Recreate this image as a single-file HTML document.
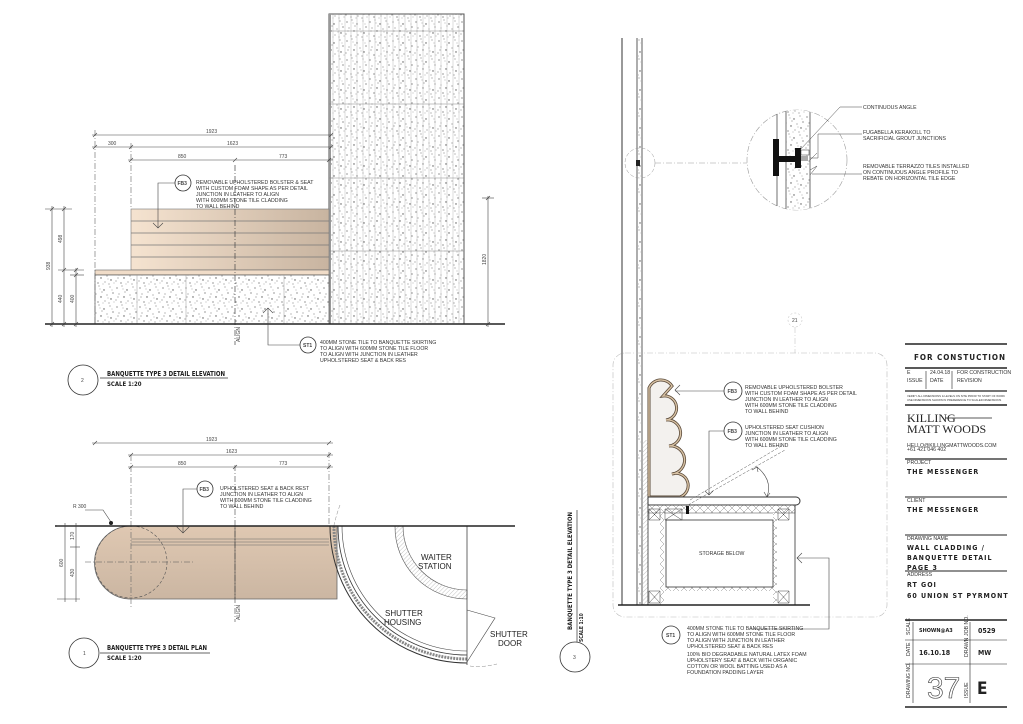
<!DOCTYPE html>
<html><head><meta charset="utf-8">
<style>
html,body{margin:0;padding:0;background:#fff;}
svg{display:block;}
.t{font-family:"Liberation Sans",sans-serif;font-size:5.2px;fill:#333;}
.d{font-family:"Liberation Sans",sans-serif;font-size:5px;fill:#444;}
.b{font-family:"Liberation Sans",sans-serif;font-size:8px;fill:#222;}
.n{font-family:"DejaVu Sans Condensed","Liberation Sans",sans-serif;font-weight:bold;fill:#222;}
</style></head><body>
<svg width="1023" height="724" viewBox="0 0 1023 724" xmlns="http://www.w3.org/2000/svg">
<defs>
<pattern id="terr" width="23" height="19" patternUnits="userSpaceOnUse">
<rect width="23" height="19" fill="#fff"/>
<g fill="#555">
<circle cx="2" cy="3" r="0.6"/><circle cx="7" cy="1" r="0.5"/><circle cx="12" cy="5" r="0.7"/><circle cx="18" cy="2" r="0.5"/>
<circle cx="4" cy="9" r="0.5"/><circle cx="9" cy="12" r="0.7"/><circle cx="15" cy="10" r="0.5"/><circle cx="21" cy="8" r="0.6"/>
<circle cx="1" cy="15" r="0.5"/><circle cx="6" cy="17" r="0.6"/><circle cx="13" cy="16" r="0.5"/><circle cx="19" cy="14" r="0.7"/>
<circle cx="10" cy="7" r="0.5"/><circle cx="17" cy="18" r="0.5"/><circle cx="3" cy="12" r="0.5"/>
<circle cx="20" cy="5" r="0.4"/><circle cx="8" cy="4" r="0.4"/><circle cx="16" cy="13" r="0.4"/><circle cx="11" cy="18" r="0.4"/><circle cx="22" cy="17" r="0.4"/>
</g></pattern>
<pattern id="vl" width="6" height="10" patternUnits="userSpaceOnUse">
<line x1="3" y1="0" x2="3" y2="10" stroke="#bbb" stroke-width="0.5"/>
</pattern>
<linearGradient id="leather" x1="0" x2="1" y1="0" y2="0">
<stop offset="0" stop-color="#f5e3d0"/><stop offset="1" stop-color="#c8b4a0"/></linearGradient>
<linearGradient id="cap" x1="0" x2="0" y1="0" y2="1">
<stop offset="0" stop-color="#dfc8b2"/><stop offset="1" stop-color="#cbb6a2"/></linearGradient>
<pattern id="hatch" width="3" height="3" patternUnits="userSpaceOnUse" patternTransform="rotate(45)">
<rect width="3" height="3" fill="#fff"/><line x1="0" y1="0" x2="0" y2="3" stroke="#999" stroke-width="0.6"/></pattern>
<pattern id="xx" width="8" height="8" patternUnits="userSpaceOnUse">
<rect width="8" height="8" fill="#fff"/><path d="M0,0L8,8M8,0L0,8" stroke="#888" stroke-width="0.5"/></pattern>
</defs>

<!-- ====== VIEW 2 ELEVATION ====== -->
<rect x="329" y="14" width="135" height="310" fill="url(#terr)"/>
<rect x="329" y="14" width="135" height="310" fill="url(#vl)" stroke="#555" stroke-width="1"/>
<line x1="330" y1="14" x2="330" y2="324" stroke="#999" stroke-width="2"/>
<g stroke="#888" stroke-width="0.6"><line x1="329" y1="31" x2="464" y2="31"/><line x1="329" y1="104" x2="464" y2="104"/><line x1="329" y1="178" x2="464" y2="178"/><line x1="329" y1="251" x2="464" y2="251"/></g>
<rect x="131" y="209" width="198" height="61" fill="url(#leather)" stroke="#777" stroke-width="0.6"/>
<g stroke="#777" stroke-width="0.8"><line x1="131" y1="221" x2="329" y2="221"/><line x1="131" y1="233" x2="329" y2="233"/><line x1="131" y1="245" x2="329" y2="245"/><line x1="131" y1="257" x2="329" y2="257"/></g>
<rect x="95" y="270" width="234" height="5" fill="#f0dcc8" stroke="#666" stroke-width="0.6"/>
<rect x="95" y="275" width="234" height="49" fill="url(#terr)" stroke="#555" stroke-width="0.7"/>
<g stroke="#999" stroke-width="0.5"><line x1="137" y1="275" x2="137" y2="324"/><line x1="186" y1="275" x2="186" y2="324"/><line x1="284" y1="275" x2="284" y2="324"/></g>
<line x1="235" y1="165" x2="235" y2="345" stroke="#444" stroke-width="0.7" stroke-dasharray="6,2,1,2"/>
<line x1="95" y1="130" x2="95" y2="324" stroke="#666" stroke-width="0.6" stroke-dasharray="6,2,1,2"/>
<line x1="131" y1="143" x2="131" y2="209" stroke="#666" stroke-width="0.6" stroke-dasharray="6,2,1,2"/>
<line x1="45" y1="324" x2="505" y2="324" stroke="#222" stroke-width="1.5"/>
<text class="d" x="240" y="342" transform="rotate(-90 240 342)">ALIGN</text>
<g stroke="#444" stroke-width="0.6">
<line x1="92" y1="135" x2="333" y2="135"/><line x1="92" y1="147" x2="333" y2="147"/><line x1="128" y1="160" x2="333" y2="160"/>
<path d="M93,137l4,-4M329,137l4,-4M93,149l4,-4M129,149l4,-4M329,149l4,-4M129,162l4,-4M233,162l4,-4M327,162l4,-4"/>
<line x1="52" y1="206" x2="52" y2="327"/><line x1="64" y1="206" x2="64" y2="327"/><line x1="76" y1="268" x2="76" y2="327"/>
<line x1="45" y1="209" x2="72" y2="209"/><line x1="58" y1="270" x2="84" y2="270"/><line x1="70" y1="275" x2="84" y2="275"/>
<path d="M50,211l4,-4M62,211l4,-4M62,272l4,-4M74,277l4,-4M74,272l4,-4M50,326l4,-4M62,326l4,-4M74,326l4,-4"/>
<line x1="488" y1="196" x2="488" y2="327"/><line x1="482" y1="198" x2="494" y2="198"/><path d="M486,200l4,-4M486,326l4,-4"/>
</g>
<g class="d"><text x="206" y="133">1923</text><text x="108" y="145">300</text><text x="227" y="145">1623</text><text x="178" y="158">850</text><text x="279" y="158">773</text></g>
<g class="d" font-size="4.5"><text transform="translate(50,270) rotate(-90)">938</text><text transform="translate(62,243) rotate(-90)">498</text><text transform="translate(62,303) rotate(-90)">440</text><text transform="translate(74,303) rotate(-90)">400</text><text transform="translate(486,265) rotate(-90)">1820</text></g>
<circle cx="183" cy="183" r="8" fill="#fff" stroke="#333" stroke-width="0.8"/><text class="d" x="177.5" y="185" font-weight="bold">FB3</text>
<path d="M175,183H158V228M153,223l5,5l5,-5" fill="none" stroke="#444" stroke-width="0.6"/>
<g class="t"><text x="196" y="184">REMOVABLE UPHOLSTERED BOLSTER &amp; SEAT</text><text x="196" y="190">WITH CUSTOM FOAM SHAPE AS PER DETAIL</text><text x="196" y="196">JUNCTION IN LEATHER TO ALIGN</text><text x="196" y="202">WITH 600MM STONE TILE CLADDING</text><text x="196" y="208">TO WALL BEHIND</text></g>
<circle cx="308" cy="345" r="8" fill="#fff" stroke="#333" stroke-width="0.8"/><text class="d" x="303" y="347" font-weight="bold">ST1</text>
<path d="M300,345H268V308M263,313l5,-5l5,5" fill="none" stroke="#444" stroke-width="0.6"/>
<g class="t"><text x="320" y="344">400MM STONE TILE TO BANQUETTE SKIRTING</text><text x="320" y="350">TO ALIGN WITH 600MM STONE TILE FLOOR</text><text x="320" y="356">TO ALIGN WITH JUNCTION IN LEATHER</text><text x="320" y="362">UPHOLSTERED SEAT &amp; BACK RES</text></g>
<circle cx="83" cy="380" r="15" fill="none" stroke="#333" stroke-width="0.8"/><text class="d" x="81" y="382">2</text>
<line x1="100" y1="378" x2="228" y2="378" stroke="#333" stroke-width="0.7"/>
<text class="n" x="107" y="376" font-size="7" textLength="118" lengthAdjust="spacingAndGlyphs">BANQUETTE TYPE 3 DETAIL ELEVATION</text>
<text class="n" x="107" y="386" font-size="6">SCALE 1:20</text>

<!-- ====== VIEW 1 PLAN ====== -->
<path d="M131,526H337V599H131A36.5,36.5 0 0 1 131,526Z" fill="url(#cap)" stroke="#666" stroke-width="0.8"/>
<g stroke="#666" stroke-width="0.5"><line x1="131" y1="539" x2="329" y2="539"/><line x1="131" y1="542" x2="329" y2="542"/><line x1="131" y1="545" x2="329" y2="545"/></g>
<line x1="235" y1="526" x2="235" y2="599" stroke="#444" stroke-width="0.6"/>
<circle cx="131" cy="562" r="36" fill="none" stroke="#555" stroke-width="0.6" stroke-dasharray="3,2"/>
<line x1="85" y1="562" x2="195" y2="562" stroke="#555" stroke-width="0.5" stroke-dasharray="6,2,1,2"/>
<line x1="131" y1="455" x2="131" y2="608" stroke="#666" stroke-width="0.6" stroke-dasharray="6,2,1,2"/>
<line x1="235" y1="465" x2="235" y2="622" stroke="#444" stroke-width="0.6" stroke-dasharray="6,2,1,2"/>
<line x1="329" y1="452" x2="329" y2="526" stroke="#666" stroke-width="0.6" stroke-dasharray="6,2,1,2"/>
<text class="d" x="240" y="620" transform="rotate(-90 240 620)">ALIGN</text>
<path d="M330,526A137,137 0 0 0 467,663" fill="none" stroke="#333" stroke-width="1"/>
<path d="M338,526A129,129 0 0 0 467,655" fill="none" stroke="#333" stroke-width="0.8"/>
<path d="M334,526A133,133 0 0 0 467,659" fill="none" stroke="#888" stroke-width="3" stroke-dasharray="2,1"/>
<path d="M342,526A125,125 0 0 0 467,651" fill="none" stroke="#444" stroke-width="0.6"/>
<path d="M395,526H403A64,64 0 0 0 467,590V599A72,72 0 0 1 395,526Z" fill="url(#hatch)" stroke="#555" stroke-width="0.6"/>
<line x1="467" y1="526" x2="467" y2="665" stroke="#444" stroke-width="0.8"/>
<path d="M467,610L495,618L467,662" fill="none" stroke="#444" stroke-width="0.6"/>
<path d="M340,505A160,160 0 0 0 333,530M470,666Q480,668 497,664" fill="none" stroke="#888" stroke-width="0.5" stroke-dasharray="4,2"/>
<line x1="55" y1="526" x2="515" y2="526" stroke="#222" stroke-width="1.5"/>
<g class="b"><text x="421" y="560">WAITER</text><text x="418" y="569">STATION</text><text x="385" y="616">SHUTTER</text><text x="384" y="625">HOUSING</text><text x="490" y="637">SHUTTER</text><text x="498" y="646">DOOR</text></g>
<g stroke="#444" stroke-width="0.6">
<line x1="92" y1="443" x2="333" y2="443"/><line x1="128" y1="455" x2="333" y2="455"/><line x1="128" y1="467" x2="333" y2="467"/>
<path d="M93,445l4,-4M327,445l4,-4M129,457l4,-4M327,457l4,-4M129,469l4,-4M233,469l4,-4M327,469l4,-4"/>
<line x1="65" y1="523" x2="65" y2="602"/><line x1="76" y1="523" x2="76" y2="602"/><line x1="57" y1="526" x2="80" y2="526"/><line x1="57" y1="599" x2="80" y2="599"/><line x1="70" y1="547" x2="80" y2="547"/>
</g>
<g class="d"><text x="206" y="441">1923</text><text x="226" y="453">1623</text><text x="178" y="465">850</text><text x="279" y="465">773</text><text x="73" y="508">R 300</text></g>
<g class="d" font-size="4.5"><text transform="translate(63,567) rotate(-90)">600</text><text transform="translate(74,540) rotate(-90)">170</text><text transform="translate(74,577) rotate(-90)">430</text></g>
<path d="M85,510H103L111,522" fill="none" stroke="#444" stroke-width="0.6"/><circle cx="111" cy="523" r="2" fill="#222"/>
<circle cx="205" cy="489" r="8" fill="#fff" stroke="#333" stroke-width="0.8"/><text class="d" x="199.5" y="491" font-weight="bold">FB3</text>
<path d="M197,489H183V533M176,526l7,7l7,-7" fill="none" stroke="#444" stroke-width="0.6"/>
<g class="t"><text x="220" y="490">UPHOLSTERED SEAT &amp; BACK REST</text><text x="220" y="496">JUNCTION IN LEATHER TO ALIGN</text><text x="220" y="502">WITH 600MM STONE TILE CLADDING</text><text x="220" y="508">TO WALL BEHIND</text></g>
<circle cx="84" cy="653" r="15" fill="none" stroke="#333" stroke-width="0.8"/><text class="d" x="83" y="655">1</text>
<line x1="100" y1="653" x2="210" y2="653" stroke="#333" stroke-width="0.7"/>
<text class="n" x="107" y="650" font-size="7" textLength="100" lengthAdjust="spacingAndGlyphs">BANQUETTE TYPE 3 DETAIL PLAN</text>
<text class="n" x="107" y="660" font-size="6">SCALE 1:20</text>

<!-- ====== VIEW 3 SECTION ====== -->
<text class="n" font-size="6.5" transform="translate(572,630) rotate(-90)" textLength="118" lengthAdjust="spacingAndGlyphs">BANQUETTE TYPE 3 DETAIL ELEVATION</text>
<text class="n" font-size="5" transform="translate(583,642) rotate(-90)">SCALE 1:10</text>
<line x1="577" y1="510" x2="577" y2="642" stroke="#333" stroke-width="0.7"/>
<circle cx="575" cy="657" r="15" fill="#fff" stroke="#333" stroke-width="0.8"/><text class="d" x="573" y="659">3</text>
<g stroke="#333"><line x1="622" y1="38" x2="622" y2="605" stroke-width="1"/><line x1="637" y1="38" x2="637" y2="605" stroke-width="0.8"/><line x1="642" y1="38" x2="642" y2="605" stroke-width="0.8"/></g>
<rect x="638" y="38" width="3" height="567" fill="url(#terr)"/>
<rect x="636" y="160" width="4" height="6" fill="#222"/>
<circle cx="640" cy="163" r="15" fill="none" stroke="#999" stroke-width="0.5" stroke-dasharray="4,2"/>
<line x1="655" y1="163" x2="747" y2="163" stroke="#999" stroke-width="0.5" stroke-dasharray="6,2,1,2"/>
<circle cx="797" cy="160" r="50" fill="#fff" stroke="#999" stroke-width="0.6" stroke-dasharray="6,2,1,2"/>
<clipPath id="cc"><circle cx="797" cy="160" r="50"/></clipPath>
<g clip-path="url(#cc)">
<rect x="786" y="100" width="24" height="120" fill="url(#terr)" stroke="#333" stroke-width="0.7"/>
<line x1="777" y1="100" x2="777" y2="220" stroke="#333" stroke-width="0.7"/>
</g>
<rect x="773" y="139" width="6" height="37" fill="#111"/><rect x="779" y="156" width="18" height="6" fill="#111"/><rect x="795" y="148" width="6" height="20" fill="#111"/>
<rect x="801" y="150" width="8" height="5" fill="#fff" stroke="#333" stroke-width="0.5"/><rect x="801" y="156" width="7" height="5" fill="#aaa"/>
<g fill="none" stroke="#444" stroke-width="0.5">
<path d="M800,150L840,107H862"/><path d="M810,158H818V134H862"/><path d="M810,160L817,153M810,170L817,166L810,175"/><path d="M812,174H862"/>
</g>
<g class="t"><text x="863" y="109">CONTINUOUS ANGLE</text><text x="863" y="134">FUGABELLA KERAKOLL TO</text><text x="863" y="140">SACRIFICIAL GROUT JUNCTIONS</text>
<text x="863" y="168">REMOVABLE TERRAZZO TILES INSTALLED</text><text x="863" y="174">ON CONTINUOUS ANGLE PROFILE TO</text><text x="863" y="180">REBATE ON HORIZONTAL TILE EDGE</text></g>
<circle cx="795" cy="320" r="7" fill="none" stroke="#bbb" stroke-width="0.5" stroke-dasharray="2,2"/><text class="d" x="792" y="322" fill="#aaa" font-size="4">21</text>
<line x1="795" y1="327" x2="795" y2="353" stroke="#bbb" stroke-width="0.5" stroke-dasharray="6,2,1,2"/>
<rect x="613" y="353" width="274" height="264" rx="12" fill="none" stroke="#bbb" stroke-width="0.6" stroke-dasharray="6,2,1,2"/>
<rect x="643" y="440" width="5" height="165" fill="url(#hatch)"/>
<path d="M649,497L649,388A13,13 0 0 1 672,386L663,396A12,12 0 0 1 666,420A13,13 0 0 1 669,446A14,14 0 0 1 672,474A12,12 0 0 1 680,497Z" fill="#f3f1ee" stroke="#5a4a3a" stroke-width="3"/>
<path d="M649,497L649,388A13,13 0 0 1 672,386L663,396A12,12 0 0 1 666,420A13,13 0 0 1 669,446A14,14 0 0 1 672,474A12,12 0 0 1 680,497Z" fill="none" stroke="#d8c2a4" stroke-width="1.4"/>
<path d="M648,497H796A4,4 0 0 1 796,505H648Z" fill="#fff" stroke="#333" stroke-width="1"/>
<rect x="648" y="505" width="147" height="8" fill="url(#xx)" stroke="#444" stroke-width="0.5"/>
<rect x="648" y="505" width="147" height="100" fill="none" stroke="#333" stroke-width="0.8"/>
<rect x="660" y="513" width="4" height="92" fill="url(#xx)"/><rect x="773" y="513" width="4" height="92" fill="url(#xx)"/>
<rect x="664" y="587" width="109" height="4" fill="url(#xx)"/>
<rect x="666" y="520" width="107" height="67" fill="#fff" stroke="#333" stroke-width="0.8"/>
<g fill="none" stroke="#444" stroke-width="0.5"><path d="M649,509h11v11h-11zM649,509l11,11M660,509l-11,11M665,509h17v11h-17zM665,509l17,11M682,509l-17,11M778,509h11v11h-11zM778,509l11,11M789,509l-11,11M649,591h11v12h-11zM649,591l11,12M660,591l-11,12M778,591h11v12h-11zM778,591l11,12M789,591l-11,12"/></g>
<text class="t" x="699" y="555">STORAGE BELOW</text>
<line x1="618" y1="605" x2="810" y2="605" stroke="#222" stroke-width="1.5"/>
<rect x="686" y="506" width="3" height="8" fill="#111"/>
<g fill="none" stroke="#555" stroke-width="0.5" stroke-dasharray="3,1.5"><path d="M688,505L785,450M690,500L783,445"/></g>
<path d="M757,467Q773,480 767,497M752,470l5,-3l1,5M764,492l3,5l3,-4" fill="none" stroke="#444" stroke-width="0.6"/>
<circle cx="733" cy="391" r="9" fill="#fff" stroke="#333" stroke-width="0.8"/><text class="d" x="727.5" y="393" font-weight="bold">FB3</text>
<path d="M724,391H675M680,385l-5,5l5,5" fill="none" stroke="#444" stroke-width="0.6"/>
<g class="t"><text x="745" y="389">REMOVABLE UPHOLSTERED BOLSTER</text><text x="745" y="395">WITH CUSTOM FOAM SHAPE AS PER DETAIL</text><text x="745" y="401">JUNCTION IN LEATHER TO ALIGN</text><text x="745" y="407">WITH 600MM STONE TILE CLADDING</text><text x="745" y="413">TO WALL BEHIND</text></g>
<circle cx="733" cy="431" r="9" fill="#fff" stroke="#333" stroke-width="0.8"/><text class="d" x="727.5" y="433" font-weight="bold">FB3</text>
<path d="M724,431H709V495M705,491l4,4l4,-4" fill="none" stroke="#444" stroke-width="0.6"/>
<g class="t"><text x="745" y="429">UPHOLSTERED SEAT CUSHION</text><text x="745" y="435">JUNCTION IN LEATHER TO ALIGN</text><text x="745" y="441">WITH 600MM STONE TILE CLADDING</text><text x="745" y="447">TO WALL BEHIND</text></g>
<circle cx="671" cy="635" r="9" fill="#fff" stroke="#333" stroke-width="0.8"/><text class="d" x="666" y="637" font-weight="bold">ST1</text>
<path d="M750,629H829V558H797M802,553l-5,5l5,5" fill="none" stroke="#444" stroke-width="0.6"/>
<g class="t"><text x="687" y="630">400MM STONE TILE TO BANQUETTE SKIRTING</text><text x="687" y="636">TO ALIGN WITH 600MM STONE TILE FLOOR</text><text x="687" y="642">TO ALIGN WITH JUNCTION IN LEATHER</text><text x="687" y="648">UPHOLSTERED SEAT &amp; BACK RES</text>
<text x="687" y="656">100% BIO DEGRADABLE NATURAL LATEX FOAM</text><text x="687" y="662">UPHOLSTERY SEAT &amp; BACK WITH ORGANIC</text><text x="687" y="668">COTTON OR WOOL BATTING USED AS A</text><text x="687" y="674">FOUNDATION PADDING LAYER</text></g>

<!-- ====== TITLE BLOCK ====== -->
<g stroke="#222">
<line x1="905" y1="344" x2="1007" y2="344" stroke-width="1.6"/>
<line x1="905" y1="368" x2="1007" y2="368" stroke-width="1.6"/>
<line x1="905" y1="391" x2="1007" y2="391" stroke-width="1.2"/>
<line x1="905" y1="405" x2="1007" y2="405" stroke-width="1.6"/>
<line x1="905" y1="459" x2="1007" y2="459" stroke-width="1.2"/>
<line x1="905" y1="497" x2="1007" y2="497" stroke-width="1"/>
<line x1="905" y1="535" x2="1007" y2="535" stroke-width="1"/>
<line x1="905" y1="571" x2="1007" y2="571" stroke-width="1"/>
<line x1="905" y1="620" x2="1007" y2="620" stroke-width="1.6"/>
<line x1="905" y1="640" x2="1007" y2="640" stroke-width="0.6"/>
<line x1="905" y1="664" x2="1007" y2="664" stroke-width="0.6"/>
<line x1="905" y1="707" x2="1007" y2="707" stroke-width="1.6"/>
<line x1="913" y1="622" x2="913" y2="703" stroke-width="0.6"/>
<line x1="970" y1="622" x2="970" y2="703" stroke-width="0.6"/>
<line x1="926" y1="371" x2="926" y2="389" stroke-width="0.6"/><line x1="952" y1="371" x2="952" y2="389" stroke-width="0.6"/>
</g>
<text class="n" x="914" y="360" font-size="8" textLength="91" lengthAdjust="spacing">FOR CONSTUCTION</text>
<g class="t" font-size="3.5"><text x="907" y="374">E</text><text x="930" y="374">24.04.18</text><text x="957" y="374">FOR CONSTRUCTION</text>
<text x="907" y="382">ISSUE</text><text x="930" y="382">DATE</text><text x="957" y="382">REVISION</text>
<text x="907" y="397" font-size="2.8">VERIFY ALL DIMENSIONS &amp; LEVELS ON SITE PRIOR TO START OF WORK</text><text x="907" y="401" font-size="2.8">USE DIMENSIONS SHOWN IN PREFERENCE TO SCALED DIMENSIONS</text></g>
<text x="907" y="422" font-family="Liberation Serif,serif" font-size="12" fill="#222">KILLING</text>
<line x1="945" y1="418" x2="992" y2="418" stroke="#222" stroke-width="0.8"/>
<text x="907" y="433" font-family="Liberation Serif,serif" font-size="12" fill="#222">MATT WOODS</text>
<g class="t" font-size="3.3"><text x="907" y="447">HELLO@KILLINGMATTWOODS.COM</text><text x="907" y="451">+61 421 046 402</text>
<text x="907" y="464">PROJECT</text><text x="907" y="502">CLIENT</text><text x="907" y="540">DRAWING NAME</text><text x="907" y="576">ADDRESS</text></g>
<g class="n" font-size="7" letter-spacing="1"><text x="907" y="474">THE MESSENGER</text><text x="907" y="512">THE MESSENGER</text>
<text x="907" y="550">WALL CLADDING /</text><text x="907" y="560">BANQUETTE DETAIL</text><text x="907" y="570">PAGE 3</text>
<text x="907" y="587">RT GOI</text><text x="907" y="598">60 UNION ST PYRMONT</text></g>
<g class="t" font-size="3"><text transform="translate(910,635) rotate(-90)">SCALE</text><text transform="translate(910,656) rotate(-90)">DATE</text><text transform="translate(910,698) rotate(-90)">DRAWING NO.</text>
<text transform="translate(968,636) rotate(-90)">JOB NO.</text><text transform="translate(968,657) rotate(-90)">DRAWN</text><text transform="translate(968,698) rotate(-90)">ISSUE</text></g>
<text class="n" x="919" y="632" font-size="5.5">SHOWN@A3</text><text class="n" x="978" y="633" font-size="7">0529</text>
<text class="n" x="919" y="655" font-size="7">16.10.18</text><text class="n" x="978" y="655" font-size="7">MW</text>
<text x="927" y="698" font-family="Liberation Sans,sans-serif" font-size="30" fill="#fff" stroke="#333" stroke-width="0.6">37</text>
<text class="n" x="977" y="694" font-size="17">E</text>
</svg>
</body></html>
